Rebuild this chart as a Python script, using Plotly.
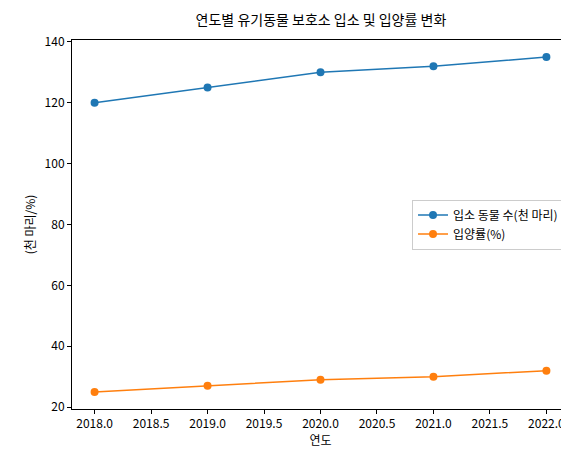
import plotly.graph_objects as go

years = [2018, 2019, 2020, 2021, 2022]
intake = [120, 125, 130, 132, 135]
adoption = [25, 27, 29, 30, 32]
xticks = [2018.0, 2018.5, 2019.0, 2019.5, 2020.0, 2020.5, 2021.0, 2021.5, 2022.0]

fig = go.Figure()
fig.add_trace(go.Scatter(x=years, y=intake, mode="lines+markers", name="입소 동물 수(천 마리)",
                         line=dict(color="#1f77b4", width=1.5), marker=dict(size=8)))
fig.add_trace(go.Scatter(x=years, y=adoption, mode="lines+markers", name="입양률(%)",
                         line=dict(color="#ff7f0e", width=1.5), marker=dict(size=8)))
axis = dict(showgrid=False, zeroline=False, showline=True, mirror=True, linecolor="black",
            ticks="outside", ticklen=4, tickcolor="black", automargin=False,
            tickfont=dict(size=12))
fig.update_layout(
    width=569, height=454, plot_bgcolor="white", paper_bgcolor="white",
    font=dict(family="Noto Sans CJK KR", size=12, color="black"),
    margin=dict(l=64, r=8, t=32, b=53),
    title=dict(text="연도별 유기동물 보호소 입소 및 입양률 변화", x=0.55, xanchor="center", y=0.985, yanchor="top",
               font=dict(size=14)),
    xaxis=dict(axis, range=[2017.8, 2022.2], tickvals=xticks, ticktext=[f"{v:.1f}" for v in xticks],
               title=dict(text="연도", standoff=4, font=dict(size=12))),
    yaxis=dict(axis, range=[19.4, 140.6], tickvals=[20, 40, 60, 80, 100, 120, 140],
               title=dict(text="(천 마리/%)", standoff=6, font=dict(size=12))),
    legend=dict(x=0.99, xanchor="right", y=0.5, yanchor="middle", bordercolor="#ccc", borderwidth=1,
                bgcolor="white"),
)
fig.write_html("out.html")
